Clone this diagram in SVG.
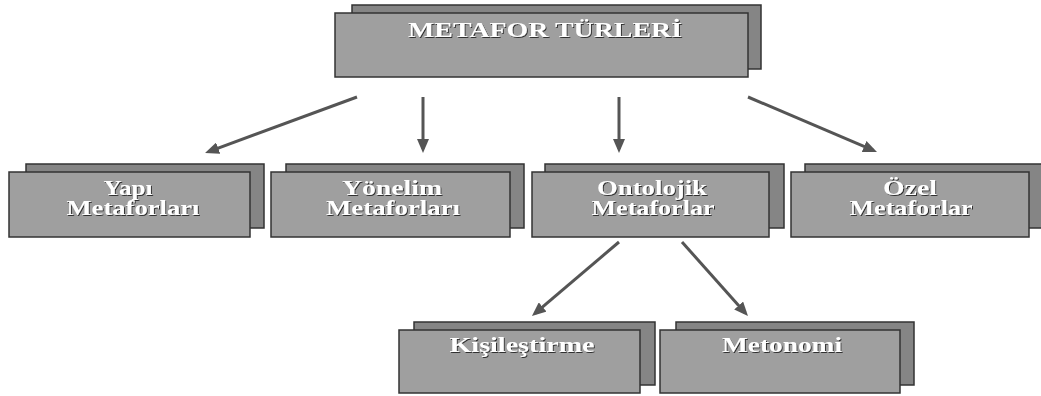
<svg xmlns="http://www.w3.org/2000/svg" width="1041" height="396" viewBox="0 0 1041 396">
<defs>
<style>
.back{fill:#858585;stroke:#333;stroke-width:1.5}
.front{fill:#9f9f9f;stroke:#333;stroke-width:1.5}
.lbl{font-family:"Liberation Serif","Times New Roman",serif;font-size:20px;font-weight:bold;fill:#fff;text-anchor:middle;filter:url(#sh)}
.conn line{stroke:#555;stroke-width:3;marker-end:url(#ah)}
</style>
<filter id="sh" x="-10%" y="-30%" width="120%" height="160%">
<feDropShadow dx="1" dy="1" stdDeviation="0.7" flood-color="#222" flood-opacity="0.9"/>
</filter>
<marker id="ah" markerUnits="userSpaceOnUse" markerWidth="14" markerHeight="12" refX="10" refY="6" orient="auto">
<path d="M0,0 L14,6 L0,12 z" fill="#555"/>
</marker>
</defs>
<rect width="1041" height="396" fill="#fff"/>
<g id="top">
<rect class="back" x="352" y="5" width="409" height="64"/>
<rect class="front" x="335" y="13" width="413" height="64"/>
<text class="lbl" x="545" y="37" style="font-size:21px" textLength="274" lengthAdjust="spacingAndGlyphs">METAFOR TÜRLERİ</text>
</g>
<g id="yapi">
<rect class="back" x="26" y="164" width="238" height="64"/>
<rect class="front" x="9" y="172" width="241" height="65"/>
<text class="lbl" x="128" y="195" textLength="49" lengthAdjust="spacingAndGlyphs">Yapı</text>
<text class="lbl" x="133" y="215" textLength="133" lengthAdjust="spacingAndGlyphs">Metaforları</text>
</g>
<g id="yonelim">
<rect class="back" x="286" y="164" width="238" height="64"/>
<rect class="front" x="271" y="172" width="239" height="65"/>
<text class="lbl" x="392" y="195" textLength="100" lengthAdjust="spacingAndGlyphs">Yönelim</text>
<text class="lbl" x="393" y="215" textLength="134" lengthAdjust="spacingAndGlyphs">Metaforları</text>
</g>
<g id="ontolojik">
<rect class="back" x="545" y="164" width="239" height="64"/>
<rect class="front" x="532" y="172" width="237" height="65"/>
<text class="lbl" x="652" y="195" textLength="110" lengthAdjust="spacingAndGlyphs">Ontolojik</text>
<text class="lbl" x="653" y="215" textLength="123" lengthAdjust="spacingAndGlyphs">Metaforlar</text>
</g>
<g id="ozel">
<rect class="back" x="805" y="164" width="238" height="64"/>
<rect class="front" x="791" y="172" width="238" height="65"/>
<text class="lbl" x="910" y="195" textLength="54" lengthAdjust="spacingAndGlyphs">Özel</text>
<text class="lbl" x="911" y="215" textLength="123" lengthAdjust="spacingAndGlyphs">Metaforlar</text>
</g>
<g id="kisilestirme">
<rect class="back" x="414" y="322" width="241" height="63"/>
<rect class="front" x="399" y="330" width="241" height="63"/>
<text class="lbl" x="522" y="352" textLength="145" lengthAdjust="spacingAndGlyphs">Kişileştirme</text>
</g>
<g id="metonomi">
<rect class="back" x="676" y="322" width="238" height="63"/>
<rect class="front" x="660" y="330" width="240" height="63"/>
<text class="lbl" x="782" y="352" textLength="120" lengthAdjust="spacingAndGlyphs">Metonomi</text>
</g>
<g id="connectors" class="conn">
<line x1="357" y1="97" x2="208.8" y2="151.6"/>
<line x1="423" y1="97" x2="423" y2="149"/>
<line x1="619" y1="97" x2="619" y2="149"/>
<line x1="748" y1="97" x2="873.3" y2="150.4"/>
<line x1="619" y1="242" x2="535" y2="313.4"/>
<line x1="682" y1="242" x2="745.3" y2="313"/>
</g>
</svg>
